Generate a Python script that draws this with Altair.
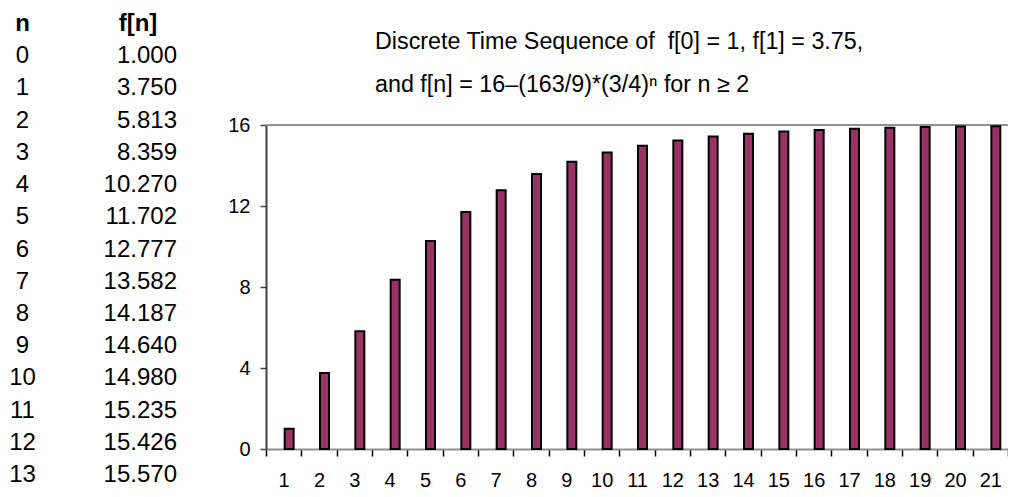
import altair as alt
import pandas as pd

# ---- data ----
tick_labels = [str(i) for i in range(1, 22)]
f_values = [1.000, 3.750, 5.813, 8.359, 10.270, 11.702, 12.777, 13.582, 14.187,
            14.640, 14.980, 15.235, 15.426, 15.570, 15.678, 15.758, 15.819,
            15.864, 15.898, 15.924, 15.943]
table_n = [str(i) for i in range(14)]
table_f = ["1.000", "3.750", "5.813", "8.359", "10.270", "11.702", "12.777",
           "13.582", "14.187", "14.640", "14.980", "15.235", "15.426", "15.570"]
table_rows = list(range(14))
header_cols = ["n", "f[n]"]
y_ticks = [0, 4, 8, 12, 16]
title_lines = ["Discrete Time Sequence of \u00a0f[0] = 1, f[1] = 3.75,",
               "and f[n] = 16\u2013(163/9)*(3/4)\u207f for n \u2265 2"]

FONT = "Liberation Sans"

bars_df = pd.DataFrame({"label": tick_labels, "f": f_values})
table_df = pd.DataFrame({"row": table_rows, "n": table_n, "fn": table_f})
top_df = pd.DataFrame({"f": [y_ticks[-1]]})
title_df = pd.DataFrame({"line": [0, 1], "text": title_lines, "col": ["t", "t"]})

x_bar = alt.X(
    "label:O", sort=tick_labels,
    scale=alt.Scale(paddingInner=0, paddingOuter=0),
    axis=alt.Axis(title=None, labelAngle=0, tickBand="extent", labelFont=FONT,
                  labelFontSize=20, labelColor="black", labelPadding=14,
                  tickColor="black", tickSize=7, tickWidth=1.5,
                  domainColor="#909090", domainWidth=2),
)
y_bar = alt.Y(
    "f:Q", scale=alt.Scale(domain=[0, 16], nice=False),
    axis=alt.Axis(title=None, values=y_ticks, grid=False, labelFont=FONT,
                  labelFontSize=20, labelColor="black", labelPadding=10,
                  tickColor="#404040", tickSize=6, tickWidth=1.5,
                  domainColor="#404040", domainWidth=2),
)

top_rule = alt.Chart(top_df).mark_rule(color="#909090", strokeWidth=2).encode(
    y=alt.Y("f:Q", scale=alt.Scale(domain=[0, 16], nice=False))
)
bars = alt.Chart(bars_df).mark_bar(
    width=9, xOffset=5.5, color="#993366", stroke="black", strokeWidth=2
).encode(x=x_bar, y=y_bar)

plot = alt.layer(top_rule, bars)

# ---- title (as text marks) ----
title_layer = alt.Chart(title_df).mark_text(
    font=FONT, fontSize=23.3, align="left", baseline="middle", color="black"
).encode(
    x=alt.X("col:N", scale=alt.Scale(type="point", domain=["t"], range=[109, 109],
                                      padding=0), axis=None),
    y=alt.Y("line:Q", scale=alt.Scale(domain=[0, 1], range=[-83, -40], nice=False,
                                       zero=False), axis=None),
    text="text:N",
)

# ---- side table ----
x_tab = alt.X("col:N", scale=alt.Scale(type="point", domain=header_cols,
                                        range=[-243.5, -89], padding=0), axis=None)
y_tab = alt.Y("row:Q", scale=alt.Scale(domain=[-1, 13], range=[-101, 350], nice=False,
                                        zero=False), axis=None)

tab_base = alt.Chart(table_df)
n_col = tab_base.mark_text(font=FONT, fontSize=24, align="center", baseline="middle",
                           color="black").encode(
    x=x_tab, y=y_tab, text="n:N"
).transform_calculate(col="'n'")
f_col = tab_base.mark_text(font=FONT, fontSize=24, align="right", baseline="middle",
                           color="black").encode(
    x=x_tab, y=y_tab, text="fn:N"
).transform_calculate(col="'f[n]'")

head_df = pd.DataFrame({"col": header_cols, "row": [-1, -1]})
head_n = alt.Chart(head_df).transform_filter("datum.col == 'n'").mark_text(
    font=FONT, fontSize=24, fontWeight="bold", align="center", baseline="middle",
    color="black").encode(x=x_tab, y=y_tab, text="col:N")
head_f = alt.Chart(head_df).transform_filter("datum.col == 'f[n]'").mark_text(
    font=FONT, fontSize=24, fontWeight="bold", align="center", baseline="middle",
    color="black", dx=-39).encode(x=x_tab, y=y_tab, text="col:N")

table = alt.layer(n_col, f_col, head_n, head_f)

chart = alt.layer(plot, title_layer, table).resolve_scale(
    x="independent", y="independent"
).properties(
    width=742, height=324,
    autosize=alt.AutoSizeParams(type="none"),
    padding={"left": 258, "top": 117, "right": 0, "bottom": 40},
).configure_view(stroke=None).configure(background="white")

chart.save("out.html", embed_options={"renderer": "svg", "actions": False})
